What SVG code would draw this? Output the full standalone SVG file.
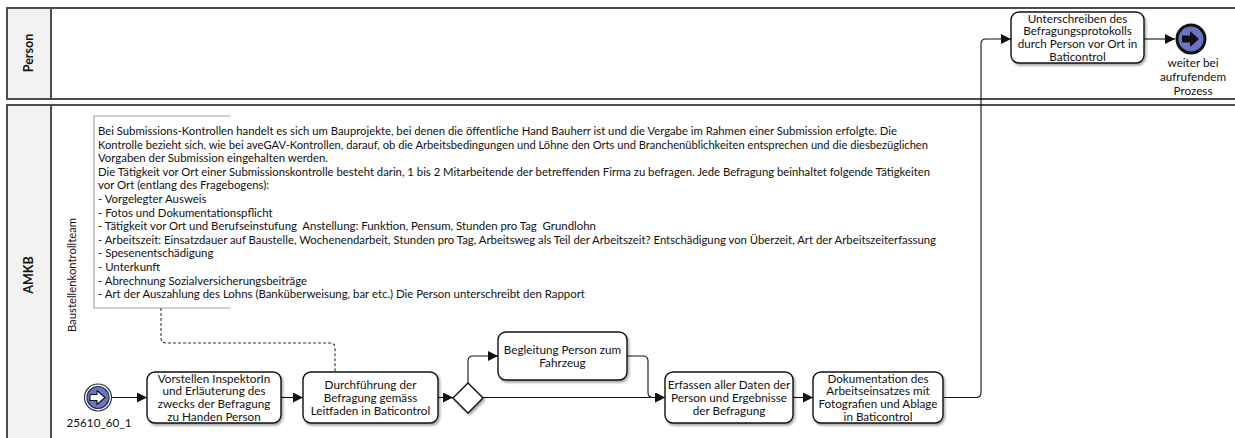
<svg xmlns="http://www.w3.org/2000/svg" width="1235" height="438" viewBox="0 0 1235 438">
  <style>
    .pool { fill: none; stroke: #4d4d4d; stroke-width: 2; }
    .hdr { fill: #f2f2f2; stroke: #4d4d4d; stroke-width: 2; }
    .hdrtxt { font-family: Lato, "Liberation Sans", sans-serif; font-size: 12.5px; font-weight: bold; fill: #111; text-anchor: middle; }
    .lanetxt { font-family: Lato, "Liberation Sans", sans-serif; font-size: 11.3px; fill: #111; text-anchor: middle; }
    .task { fill: #ffffff; stroke: #111; stroke-width: 1.4; filter: url(#shadow); }
    .tt { font-family: Lato, "Liberation Sans", sans-serif; font-size: 11.7px; fill: #111; text-anchor: middle; }
    .note { font-family: Lato, "Liberation Sans", sans-serif; font-size: 11.4px; fill: #111; white-space: pre; }
    .bracket { fill: none; stroke: #a6a6a6; stroke-width: 1.2; }
    .flow { fill: none; stroke: #111; stroke-width: 1.1; marker-end: url(#arrow); }
    .assoc { fill: none; stroke: #333; stroke-width: 1.1; stroke-dasharray: 3 2; }
    .evfill { fill: #6a74c6; }
  </style>
  <defs>
    <filter id="shadow" x="-10%" y="-10%" width="130%" height="140%">
      <feDropShadow dx="1.5" dy="2" stdDeviation="1.2" flood-color="#000" flood-opacity="0.35"/>
    </filter>
    <marker id="arrow" viewBox="0 0 10 10" refX="10" refY="5" markerWidth="10" markerHeight="10" markerUnits="userSpaceOnUse" orient="auto">
      <path d="M0,0 L10,5 L0,10 Z" fill="#111"/>
    </marker>
  </defs>

  <!-- Pools -->
  <g id="pool-person">
    <rect class="hdr" x="7" y="8" width="44" height="91"/>
    <path class="pool" d="M51,8 H1240 M51,99 H1240"/>
    <text class="hdrtxt" transform="translate(33,53) rotate(-90)">Person</text>
  </g>
  <g id="pool-amkb">
    <rect class="hdr" x="7" y="105" width="44" height="340"/>
    <path class="pool" d="M51,105 H1240"/>
    <text class="hdrtxt" transform="translate(33,275) rotate(-90)">AMKB</text>
    <text class="lanetxt" transform="translate(76,275) rotate(-90)">Baustellenkontrollteam</text>
  </g>

  <!-- Text annotation -->
  <g id="annotation">
    <path class="bracket" d="M230,116 H94 V308 H230"/>
    <text class="note" x="98" y="135" textLength="799" lengthAdjust="spacingAndGlyphs">Bei Submissions-Kontrollen handelt es sich um Bauprojekte, bei denen die öffentliche Hand Bauherr ist und die Vergabe im Rahmen einer Submission erfolgte. Die</text>
    <text class="note" x="98" y="148.6" textLength="830" lengthAdjust="spacingAndGlyphs">Kontrolle bezieht sich, wie bei aveGAV-Kontrollen, darauf, ob die Arbeitsbedingungen und Löhne den Orts und Branchenüblichkeiten entsprechen und die diesbezüglichen</text>
    <text class="note" x="98" y="162.2">Vorgaben der Submission eingehalten werden.</text>
    <text class="note" x="98" y="175.8" textLength="832" lengthAdjust="spacingAndGlyphs">Die Tätigkeit vor Ort einer Submissionskontrolle besteht darin, 1 bis 2 Mitarbeitende der betreffenden Firma zu befragen. Jede Befragung beinhaltet folgende Tätigkeiten</text>
    <text class="note" x="98" y="189.4">vor Ort (entlang des Fragebogens):</text>
    <text class="note" x="98" y="203">- Vorgelegter Ausweis</text>
    <text class="note" x="98" y="216.6">- Fotos und Dokumentationspflicht</text>
    <text class="note" x="98" y="230.2">- Tätigkeit vor Ort und Berufseinstufung  Anstellung: Funktion, Pensum, Stunden pro Tag  Grundlohn</text>
    <text class="note" x="98" y="243.8" textLength="838" lengthAdjust="spacingAndGlyphs">- Arbeitszeit: Einsatzdauer auf Baustelle, Wochenendarbeit, Stunden pro Tag, Arbeitsweg als Teil der Arbeitszeit? Entschädigung von Überzeit, Art der Arbeitszeiterfassung</text>
    <text class="note" x="98" y="257.4">- Spesenentschädigung</text>
    <text class="note" x="98" y="271">- Unterkunft</text>
    <text class="note" x="98" y="284.6">- Abrechnung Sozialversicherungsbeiträge</text>
    <text class="note" x="98" y="298.2">- Art der Auszahlung des Lohns (Banküberweisung, bar etc.) Die Person unterschreibt den Rapport</text>
  </g>

  <!-- Connectors -->
  <g id="connectors">
    <path class="assoc" d="M161,308 V338 Q161,343 166,343 H330 Q335,343 335,348 V372"/>
    <path class="flow" d="M111,397.5 H147"/>
    <path class="flow" d="M281,397.5 H303"/>
    <path class="flow" d="M438,397.5 H453"/>
    <path class="flow" d="M468,383 V361 Q468,356 473,356 H498"/>
    <path class="flow" d="M483,397.5 H665"/>
    <path class="flow" d="M627,356 H643 Q648,356 648,361 V392.5 Q648,397.5 653,397.5 H665"/>
    <path class="flow" d="M793,397.5 H813"/>
    <path class="flow" d="M943,397.5 H976 Q981,397.5 981,392.5 V44 Q981,39 986,39 H1011"/>
    <path class="flow" d="M1144,39 H1175"/>
  </g>

  <!-- Start event -->
  <g id="start-event">
    <circle cx="98" cy="397.5" r="13.5" fill="#fff" stroke="#333" stroke-width="1.2"/>
    <circle class="evfill" cx="98" cy="397.5" r="11" stroke="#2b2f66" stroke-width="1.2"/>
    <path d="M90,394.5 H97 V390.5 L105,397.5 L97,404.5 V400.5 H90 Z" fill="#fff" stroke="#111" stroke-width="1.1" stroke-linejoin="round"/>
    <text class="tt" x="99" y="427">25610_60_1</text>
  </g>

  <!-- Tasks -->
  <g id="task-vorstellen">
    <rect class="task" x="147" y="372" width="134" height="51" rx="8"/>
    <text class="tt" x="214" y="382.5">Vorstellen InspektorIn</text>
    <text class="tt" x="214" y="395.3">und Erläuterung des</text>
    <text class="tt" x="214" y="408.1">zwecks der Befragung</text>
    <text class="tt" x="214" y="420.9">zu Handen Person</text>
  </g>
  <g id="task-durchfuehrung">
    <rect class="task" x="303" y="372" width="135" height="51" rx="8"/>
    <text class="tt" x="370.5" y="388.9">Durchführung der</text>
    <text class="tt" x="370.5" y="401.7">Befragung gemäss</text>
    <text class="tt" x="370.5" y="414.5">Leitfaden in Baticontrol</text>
  </g>
  <g id="gateway">
    <path d="M468,383 L483,398 L468,413 L453,398 Z" fill="#fff" stroke="#111" stroke-width="1.4" filter="url(#shadow)"/>
  </g>
  <g id="task-begleitung">
    <rect class="task" x="498" y="332" width="129" height="48" rx="8"/>
    <text class="tt" x="562.5" y="353.8">Begleitung Person zum</text>
    <text class="tt" x="562.5" y="366.6">Fahrzeug</text>
  </g>
  <g id="task-erfassen">
    <rect class="task" x="665" y="372" width="128" height="51" rx="8"/>
    <text class="tt" x="729" y="388.9">Erfassen aller Daten der</text>
    <text class="tt" x="729" y="401.7">Person und Ergebnisse</text>
    <text class="tt" x="729" y="414.5">der Befragung</text>
  </g>
  <g id="task-dokumentation">
    <rect class="task" x="813" y="372" width="130" height="51" rx="8"/>
    <text class="tt" x="878" y="382.5">Dokumentation des</text>
    <text class="tt" x="878" y="395.3">Arbeitseinsatzes mit</text>
    <text class="tt" x="878" y="408.1">Fotografien und Ablage</text>
    <text class="tt" x="878" y="420.9">in Baticontrol</text>
  </g>
  <g id="task-unterschreiben">
    <rect class="task" x="1011" y="12" width="133" height="51" rx="8"/>
    <text class="tt" x="1077.5" y="22.5">Unterschreiben des</text>
    <text class="tt" x="1077.5" y="35.3">Befragungsprotokolls</text>
    <text class="tt" x="1077.5" y="48.1">durch Person vor Ort in</text>
    <text class="tt" x="1077.5" y="60.9">Baticontrol</text>
  </g>

  <!-- End event -->
  <g id="end-event">
    <circle class="evfill" cx="1191" cy="39" r="14" stroke="#111" stroke-width="3"/>
    <path d="M1182,35.5 H1190 V31 L1199,39 L1190,47 V42.5 H1182 Z" fill="#111"/>
    <text class="tt" x="1193" y="67">weiter bei</text>
    <text class="tt" x="1193" y="81">aufrufendem</text>
    <text class="tt" x="1193" y="95">Prozess</text>
  </g>
</svg>
